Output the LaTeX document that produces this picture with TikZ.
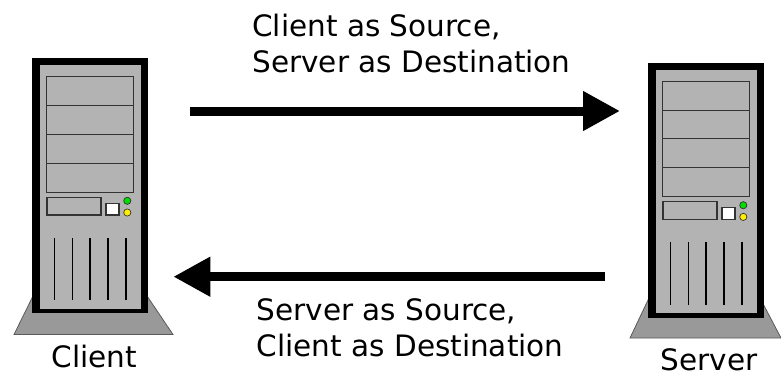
\documentclass[tikz,border=0pt]{standalone}
\usepackage{fontspec}
\setmainfont{DejaVu Sans}
\usetikzlibrary{arrows.meta}

\definecolor{casegray}{HTML}{B3B3B3}
\definecolor{basegray}{HTML}{999999}
\definecolor{edgegray}{HTML}{333333}
\definecolor{ledgreen}{HTML}{00DD00}
\definecolor{ledyellow}{HTML}{FFEE00}

\tikzset{
  caption/.style={font=\fontsize{29.5}{36}\selectfont, inner sep=0pt, align=left},
  flow/.style={line width=9pt, -{Triangle[length=37pt,width=37.5pt]}},
  part/.style={draw=edgegray, line width=1.1pt, fill=casegray},
  stand/.style={draw=black!65, line width=0.8pt, fill=basegray},
  vent/.style={draw=black, line width=1.1pt},
  % a tower computer case, origin at its top-left corner
  tower/.pic={
    \fill[black] (0,0) rectangle (115.5,255);
    \fill[casegray] (7.7,7) rectangle (108.3,250.5);
    % drive bays
    \draw[part] (14.4,18.4) rectangle (101,134);
    \draw[part] (14.4,47.4) -- (101,47.4)
                (14.4,76) -- (101,76)
                (14.4,105) -- (101,105);
    % floppy slot, button and status lights
    \draw[part] (14.7,139) rectangle (68.7,156.7);
    \draw[draw=edgegray, line width=1.1pt, fill=white] (73.7,145) rectangle (86.7,156.7);
    \draw[draw=edgegray, line width=0.7pt, fill=ledgreen] (95,142.5) circle (3.6);
    \draw[draw=edgegray, line width=0.7pt, fill=ledyellow] (95,154.2) circle (3.6);
    % ventilation slots
    \foreach \vx in {22,40,57.7,75.7,93.7}
      \draw[vent] (\vx,179.7) -- (\vx,242);
  }
}

\begin{document}
\begin{tikzpicture}[x=1pt, y=-1pt]
  \useasboundingbox (0,0) rectangle (781,376);

  % stands under the two cases
  \draw[stand] (34.5,293) -- (145,293) -- (173,334.5) -- (14,334.5) -- cycle;
  \draw[stand] (649,298) -- (760,298) -- (781,338) -- (630,338) -- cycle;

  % the two machines
  \pic (client) at (32.3,58.3) {tower};
  \pic (server) at (648.3,62.7) {tower};

  \node[caption, anchor=base, text depth=0pt] (clientname) at (94.2,367.3) {Client};
  \node[caption, anchor=base, text depth=0pt] (servername) at (709.2,370) {Server};

  % request direction
  \coordinate (reqfrom) at (190,111);
  \coordinate (reqto) at (620,111);
  \draw[flow] (reqfrom) -- (reqto);
  \node[caption, anchor=base west] (reqtext) at (252.2,72.7)
    {Client as Source,\\Server as Destination};

  % reply direction
  \coordinate (repfrom) at (605,276.7);
  \coordinate (repto) at (173.3,276.7);
  \draw[flow] (repfrom) -- (repto);
  \node[caption, anchor=base west] (reptext) at (256.5,356.5)
    {Server as Source,\\Client as Destination};
\end{tikzpicture}
\end{document}
